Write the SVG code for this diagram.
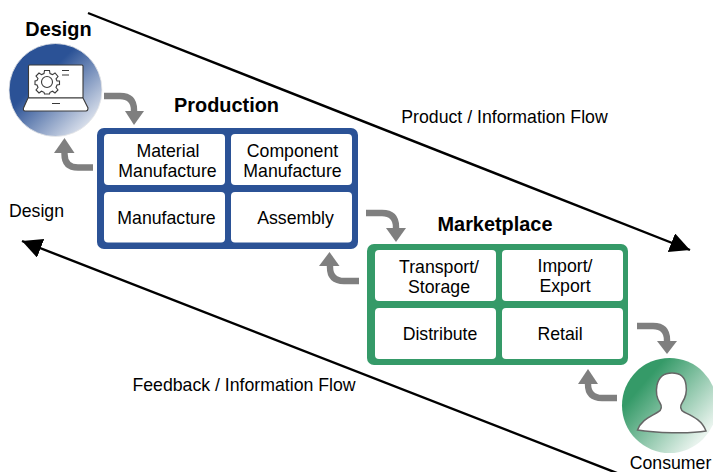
<svg xmlns="http://www.w3.org/2000/svg" width="713" height="472" viewBox="0 0 713 472">
<style>
text{font-family:"Liberation Sans",Arial,sans-serif;font-size:17.7px;fill:#000;text-anchor:middle}
.h{font-weight:bold;font-size:19.9px}
.cell{fill:#fff}
.flow{fill:none;stroke:#000;stroke-width:2.4}
.g{fill:none;stroke:#7f7f7f;stroke-width:6.4}
.gh{fill:#7f7f7f}
.lap{fill:none;stroke:#3a3a3a;stroke-width:1.1}
</style>
<defs>
<linearGradient id="gb" x1="0.2" y1="0.2" x2="0.85" y2="0.88"><stop offset="0.25" stop-color="#2b5296"/><stop offset="1" stop-color="#dbe1ec"/></linearGradient>
<linearGradient id="gg" x1="0.12" y1="0.25" x2="0.82" y2="0.85"><stop offset="0.1" stop-color="#359a68"/><stop offset="1" stop-color="#e8f3ed"/></linearGradient>
<marker id="ah" markerUnits="userSpaceOnUse" markerWidth="24" markerHeight="22" refX="20" refY="10" orient="auto"><path d="M0 0L20 10L0 20Z" fill="#000"/></marker>
</defs>
<g id="connectors">
<path class="flow" d="M88 13L690 250" marker-end="url(#ah)"/>
<path class="flow" d="M722 514L22 241" marker-end="url(#ah)"/>
<path class="g" d="M104 96H120Q134 96 134 110V113"/><path class="gh" d="M125 111H144L134 125Z"/>
<path class="g" d="M93 167.500H78Q64.500 167.500 64.500 154V151"/><path class="gh" d="M54 153H74.500L64.500 138Z"/>
<path class="g" d="M366 213H382Q396 213 396 227V230"/><path class="gh" d="M386 228H406L396 242Z"/>
<path class="g" d="M359 281H344Q330 281 330 267V264"/><path class="gh" d="M319 266H339.500L329.500 252Z"/>
<path class="g" d="M637 326H653Q667 326 667 340V343"/><path class="gh" d="M657 341H677L667 354Z"/>
<path class="g" d="M617 398H602Q588 398 588 384V382"/><path class="gh" d="M578 384H598L588 369Z"/>
</g>
<g id="design">
<circle cx="55.500" cy="90" r="46.500" fill="url(#gb)" stroke="#e8e8e8" stroke-width="0.8"/>
<rect x="28.500" y="65" width="54.500" height="33" rx="1" fill="#fff" stroke="#3a3a3a" stroke-width="1.100"/>
<path d="M28 98H83L88 108Q88 111 86 111H25Q23 111 23.500 108Z" fill="#fff" stroke="#3a3a3a" stroke-width="1.100"/>
<path class="lap" d="M52 103.500H60M62 70.500H69M62 75H69"/>
<circle class="lap" cx="47" cy="82" r="5.500"/>
<path class="lap" d="M44.500 70.500H49.500L50 73.500L52.500 74.600L55 73L58 76.500L56 78.800L57 81H59.500V84.500L57 85L56 87.500L58 90L55 93L52.500 91.200L50 92.300L49.500 94H44.500L44 92.300L41.500 91.200L39 93L36 90L38 87.500L37 85L35 84.500V81L37 80.500L38 78.500L36 76L39 73L41.500 74.600L44 73.500Z"/>
<text class="h" x="58.500" y="36">Design</text>
</g>
<g id="production">
<rect x="97" y="128" width="261" height="121" rx="7" fill="#2b5296"/>
<rect class="cell" x="104" y="134" width="121" height="51" rx="4"/>
<rect class="cell" x="231" y="134" width="121" height="51" rx="4"/>
<rect class="cell" x="104" y="192" width="121" height="50.500" rx="4"/>
<rect class="cell" x="231" y="192" width="121" height="50.500" rx="4"/>
<text class="h" x="226.500" y="112">Production</text>
<text x="168" y="157">Material</text>
<text x="167.500" y="177">Manufacture</text>
<text x="292.500" y="157">Component</text>
<text x="292.500" y="177">Manufacture</text>
<text x="166.500" y="224">Manufacture</text>
<text x="295.500" y="224">Assembly</text>
</g>
<g id="marketplace">
<rect x="367" y="244" width="261" height="121" rx="7" fill="#359a68"/>
<rect class="cell" x="375" y="250" width="121" height="51" rx="4"/>
<rect class="cell" x="502" y="250" width="121" height="51" rx="4"/>
<rect class="cell" x="375" y="308" width="121" height="51" rx="4"/>
<rect class="cell" x="502" y="308" width="121" height="51" rx="4"/>
<text class="h" x="495" y="231">Marketplace</text>
<text x="439" y="273">Transport/</text>
<text x="439" y="293">Storage</text>
<text x="565" y="272">Import/</text>
<text x="565" y="292">Export</text>
<text x="440" y="340">Distribute</text>
<text x="560" y="340">Retail</text>
</g>
<g id="consumer">
<circle cx="669.500" cy="405.500" r="47.500" fill="url(#gg)"/>
<path d="M637.500 430C641 420 650 417 658 412C662 410 662 406 660 403C656 397 656 390 657 385C659 376 665 373 672 373C679 373 685 376 686 385C687 391 686 397 682 403C680 406 680 410 684 412C692 416 702 420 706 431C690 434 655 433 637.500 430Z" fill="#fff" stroke="#666" stroke-width="1.500"/>
<text x="670.500" y="469">Consumer</text>
</g>
<g id="labels">
<text x="504.500" y="123">Product / Information Flow</text>
<text x="36.500" y="217">Design</text>
<text x="244" y="391">Feedback / Information Flow</text>
</g>
</svg>
